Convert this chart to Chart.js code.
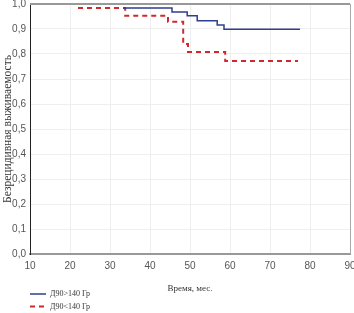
<!DOCTYPE html>
<html>
<head>
<meta charset="utf-8">
<script src="https://cdn.jsdelivr.net/npm/chart.js@4.4.0/dist/chart.umd.min.js"></script>
<style>
  html, body { margin: 0; padding: 0; background: #fff; }
</style>
</head>
<body>
<canvas id="survChart" width="354" height="313"></canvas>
<script>
// survival curves (Kaplan-Meier style)
var groupLabels = ['Д90>140 Гр', 'Д90<140 Гр'];

var highDoseMonths = [33.3, 45.5, 49.3, 51.8, 56.8, 58.5, 77.5];
var highDoseSurv   = [0.984, 0.968, 0.953, 0.933, 0.916, 0.899, 0.899];

var lowDoseMonths = [22, 33.8, 44.5, 48.3, 49.5, 58.8, 77];
var lowDoseSurv   = [0.984, 0.953, 0.929, 0.84, 0.808, 0.772, 0.772];

var xTickValues = [10, 20, 30, 40, 50, 60, 70, 80, 90];
var yTickLabels = ['0,0', '0,1', '0,2', '0,3', '0,4', '0,5', '0,6', '0,7', '0,8', '0,9', '1,0'];

function toPoints(xs, ys) {
    var pts = [];
    for (var i = 0; i < xs.length; i++) {
        pts.push({ x: xs[i], y: ys[i] });
    }
    return pts;
}

var frameLines = {
    id: 'frameLines',
    beforeDatasetsDraw: function (chart) {
        var a = chart.chartArea;
        var ctx = chart.ctx;
        ctx.save();
        ctx.strokeStyle = '#999';
        ctx.lineWidth = 2;
        ctx.beginPath();
        ctx.moveTo(a.left, a.top);
        ctx.lineTo(a.right, a.top);
        ctx.stroke();
        ctx.lineWidth = 1;
        ctx.strokeStyle = '#aaa';
        ctx.beginPath();
        ctx.moveTo(a.right + 0.5, a.top);
        ctx.lineTo(a.right + 0.5, a.bottom);
        ctx.stroke();
        ctx.restore();
    }
};

var stackedLegend = {
    id: 'stackedLegend',
    afterDraw: function (chart) {
        var ctx = chart.ctx;
        var left = chart.chartArea.left;
        chart.data.datasets.forEach(function (ds, i) {
            var y = chart.height - 19 + i * 12.5;
            ctx.save();
            ctx.strokeStyle = ds.borderColor;
            ctx.lineWidth = ds.borderWidth;
            ctx.setLineDash(ds.borderDash || []);
            ctx.beginPath();
            ctx.moveTo(left, y);
            ctx.lineTo(left + 16, y);
            ctx.stroke();
            ctx.setLineDash([]);
            ctx.fillStyle = '#333';
            ctx.font = '8px "Liberation Serif"';
            ctx.textBaseline = 'middle';
            ctx.fillText(ds.label, left + 20, y);
            ctx.restore();
        });
    }
};

var ctx = document.getElementById('survChart').getContext('2d');
var chart = new Chart(ctx, {
    type: 'line',
    data: {
        datasets: [{
            label: groupLabels[0],
            data: toPoints(highDoseMonths, highDoseSurv),
            borderColor: '#2e3f8f',
            borderWidth: 1.5,
            stepped: true,
            pointRadius: 0,
            fill: false
        }, {
            label: groupLabels[1],
            data: toPoints(lowDoseMonths, lowDoseSurv),
            borderColor: '#d0282f',
            borderWidth: 2,
            borderDash: [5, 4],
            stepped: true,
            pointRadius: 0,
            fill: false
        }]
    },
    options: {
        responsive: false,
        animation: false,
        layout: { padding: { top: 4, right: 4, bottom: 19, left: 0 } },
        plugins: {
            legend: { display: false },
            tooltip: { enabled: false }
        },
        scales: {
            x: {
                type: 'linear',
                min: 10,
                max: 90,
                afterBuildTicks: function (s) {
                    s.ticks = xTickValues.map(function (v) { return { value: v }; });
                },
                afterFit: function (s) {
                    s.height = 40;
                    s.paddingLeft = 0;
                    s.paddingRight = 0;
                },
                grid: { color: '#efefef', drawTicks: false },
                border: { color: '#999', width: 2 },
                ticks: {
                    padding: 6,
                    maxRotation: 0,
                    color: '#555',
                    font: { family: '"Liberation Sans"', size: 10 }
                },
                title: {
                    display: true,
                    text: 'Время, мес.',
                    color: '#333',
                    font: { family: '"Liberation Serif"', size: 9 },
                    padding: { top: 0, bottom: 0 }
                }
            },
            y: {
                min: 0,
                max: 1,
                afterBuildTicks: function (s) {
                    s.ticks = yTickLabels.map(function (t, i) { return { value: i / 10 }; });
                },
                afterFit: function (s) {
                    s.width = 30;
                    s.paddingTop = 0;
                    s.paddingBottom = 0;
                },
                grid: { color: '#efefef', drawTicks: false },
                border: { color: '#222', width: 1 },
                ticks: {
                    padding: 4,
                    color: '#555',
                    font: { family: '"Liberation Sans"', size: 10 },
                    callback: function (v, i) { return yTickLabels[i]; }
                },
                title: {
                    display: true,
                    text: 'Безрецидивная выживаемость',
                    color: '#333',
                    font: { family: '"Liberation Serif"', size: 11.5 },
                    padding: { top: 1, bottom: 0 }
                }
            }
        }
    },
    plugins: [frameLines, stackedLegend]
});
</script>
</body>
</html>
